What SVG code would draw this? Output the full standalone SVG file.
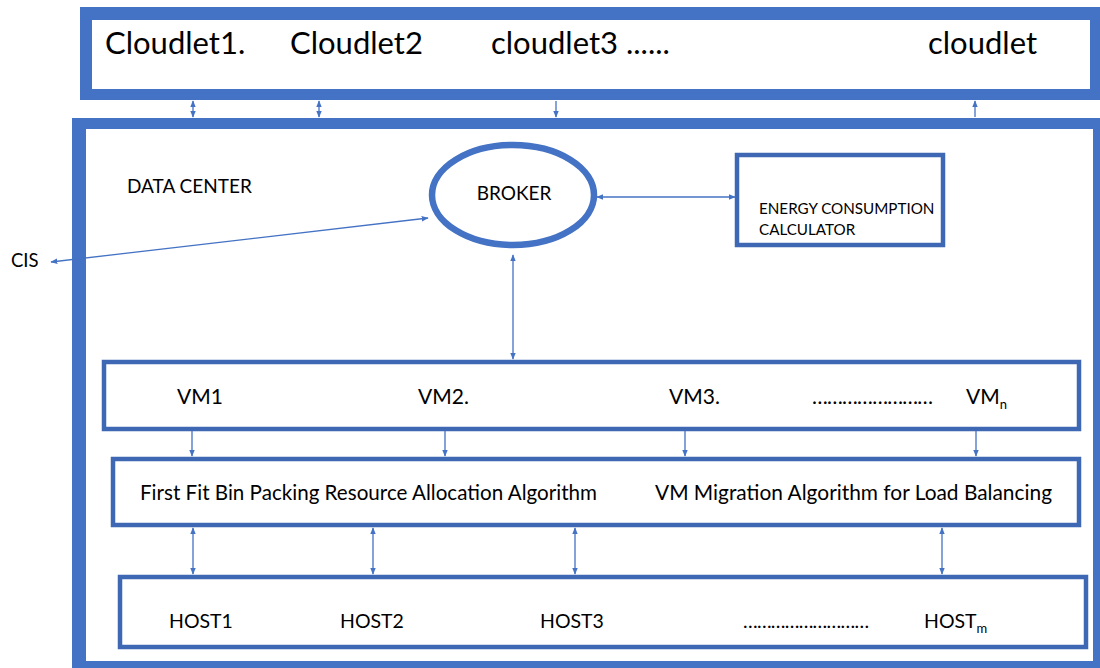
<svg xmlns="http://www.w3.org/2000/svg" width="1100" height="668" viewBox="0 0 1100 668">
<style>
.t{font-family:Lato,"Liberation Sans",sans-serif;fill:#000}
.frame{fill:#4472C4}
.in{fill:#fff}
.box{fill:#fff;stroke:#3F68B4;stroke-width:4.5}
.c{stroke:#4472C4;stroke-width:1.3;fill:none;marker-end:url(#ah)}
.cd{stroke:#4472C4;stroke-width:1.3;fill:none;marker-end:url(#ah);marker-start:url(#as)}
</style>
<defs>
<marker id="ah" viewBox="0 0 10 10" refX="9" refY="5" markerWidth="7" markerHeight="7" orient="auto" markerUnits="userSpaceOnUse"><path d="M0,1 L10,5 L0,9 z" fill="#4472C4"/></marker>
<marker id="as" viewBox="0 0 10 10" refX="1" refY="5" markerWidth="7" markerHeight="7" orient="auto" markerUnits="userSpaceOnUse"><path d="M10,1 L0,5 L10,9 z" fill="#4472C4"/></marker>
</defs>
<rect width="1100" height="668" fill="#fff"/>
<g id="cloudlets">
<rect class="frame" x="80" y="7" width="1030" height="93"/>
<rect class="in" x="92" y="20" width="998" height="69"/>
<text class="t" x="105" y="54" font-size="31">Cloudlet1.</text>
<text class="t" x="290" y="54" font-size="31">Cloudlet2</text>
<text class="t" x="491" y="54" font-size="31">cloudlet3 ......</text>
<text class="t" x="928" y="54" font-size="31">cloudlet</text>
</g>
<g id="datacenter">
<rect class="frame" x="72" y="118" width="1040" height="560"/>
<rect class="in" x="86" y="129" width="1007" height="532"/>
<text class="t" x="127" y="193" font-size="19">DATA CENTER</text>
</g>
<g id="broker">
<ellipse cx="513" cy="195" rx="81" ry="50" fill="#fff" stroke="#4472C4" stroke-width="6.5"/>
<text class="t" x="514" y="200" font-size="19" text-anchor="middle">BROKER</text>
</g>
<g id="energy">
<rect class="box" x="737" y="155" width="206" height="90"/>
<text class="t" x="759" y="214" font-size="15.2">ENERGY CONSUMPTION</text>
<text class="t" x="759" y="235" font-size="15.2">CALCULATOR</text>
</g>
<g id="cis">
<text class="t" x="11" y="267" font-size="18.5">CIS</text>
</g>
<g id="vms">
<rect class="box" x="104" y="362" width="975" height="67"/>
<text class="t" x="177" y="404" font-size="21">VM1</text>
<text class="t" x="418" y="404" font-size="21">VM2.</text>
<text class="t" x="669" y="404" font-size="21">VM3.</text>
<text class="t" x="812" y="404" font-size="21" textLength="121" lengthAdjust="spacing">……………………</text>
<text class="t" x="966" y="404" font-size="21">VM<tspan font-size="13" dy="5">n</tspan></text>
</g>
<g id="algorithms">
<rect class="box" x="113" y="459" width="966" height="66"/>
<text class="t" x="140" y="500" font-size="20.6" textLength="457" lengthAdjust="spacingAndGlyphs">First Fit Bin Packing Resource Allocation Algorithm</text>
<text class="t" x="655" y="500" font-size="20.6" textLength="397" lengthAdjust="spacingAndGlyphs">VM Migration Algorithm for Load Balancing</text>
</g>
<g id="hosts">
<rect class="box" x="120" y="577" width="966" height="70"/>
<text class="t" x="169" y="628" font-size="19.5">HOST1</text>
<text class="t" x="340" y="628" font-size="19.5">HOST2</text>
<text class="t" x="540" y="628" font-size="19.5">HOST3</text>
<text class="t" x="743" y="628" font-size="19.5" textLength="126" lengthAdjust="spacing">………………………</text>
<text class="t" x="924" y="628" font-size="19.5">HOST<tspan font-size="13" dy="5">m</tspan></text>
</g>
<g id="connectors">
<line class="cd" x1="193" y1="101" x2="193" y2="117"/>
<line class="cd" x1="319" y1="101" x2="319" y2="117"/>
<line class="c" x1="556" y1="101" x2="556" y2="117"/>
<line class="c" x1="975" y1="117" x2="975" y2="101"/>
<line class="cd" x1="51" y1="262" x2="428" y2="218"/>
<line class="cd" x1="597" y1="197" x2="735" y2="197"/>
<line class="cd" x1="513" y1="255" x2="513" y2="359"/>
<line class="c" x1="192" y1="431" x2="192" y2="456"/>
<line class="c" x1="445" y1="431" x2="445" y2="456"/>
<line class="c" x1="685" y1="431" x2="685" y2="456"/>
<line class="c" x1="976" y1="431" x2="976" y2="456"/>
<line class="cd" x1="193" y1="528" x2="193" y2="574"/>
<line class="cd" x1="373" y1="528" x2="373" y2="574"/>
<line class="cd" x1="575" y1="528" x2="575" y2="574"/>
<line class="cd" x1="942" y1="528" x2="942" y2="574"/>
</g>
</svg>
